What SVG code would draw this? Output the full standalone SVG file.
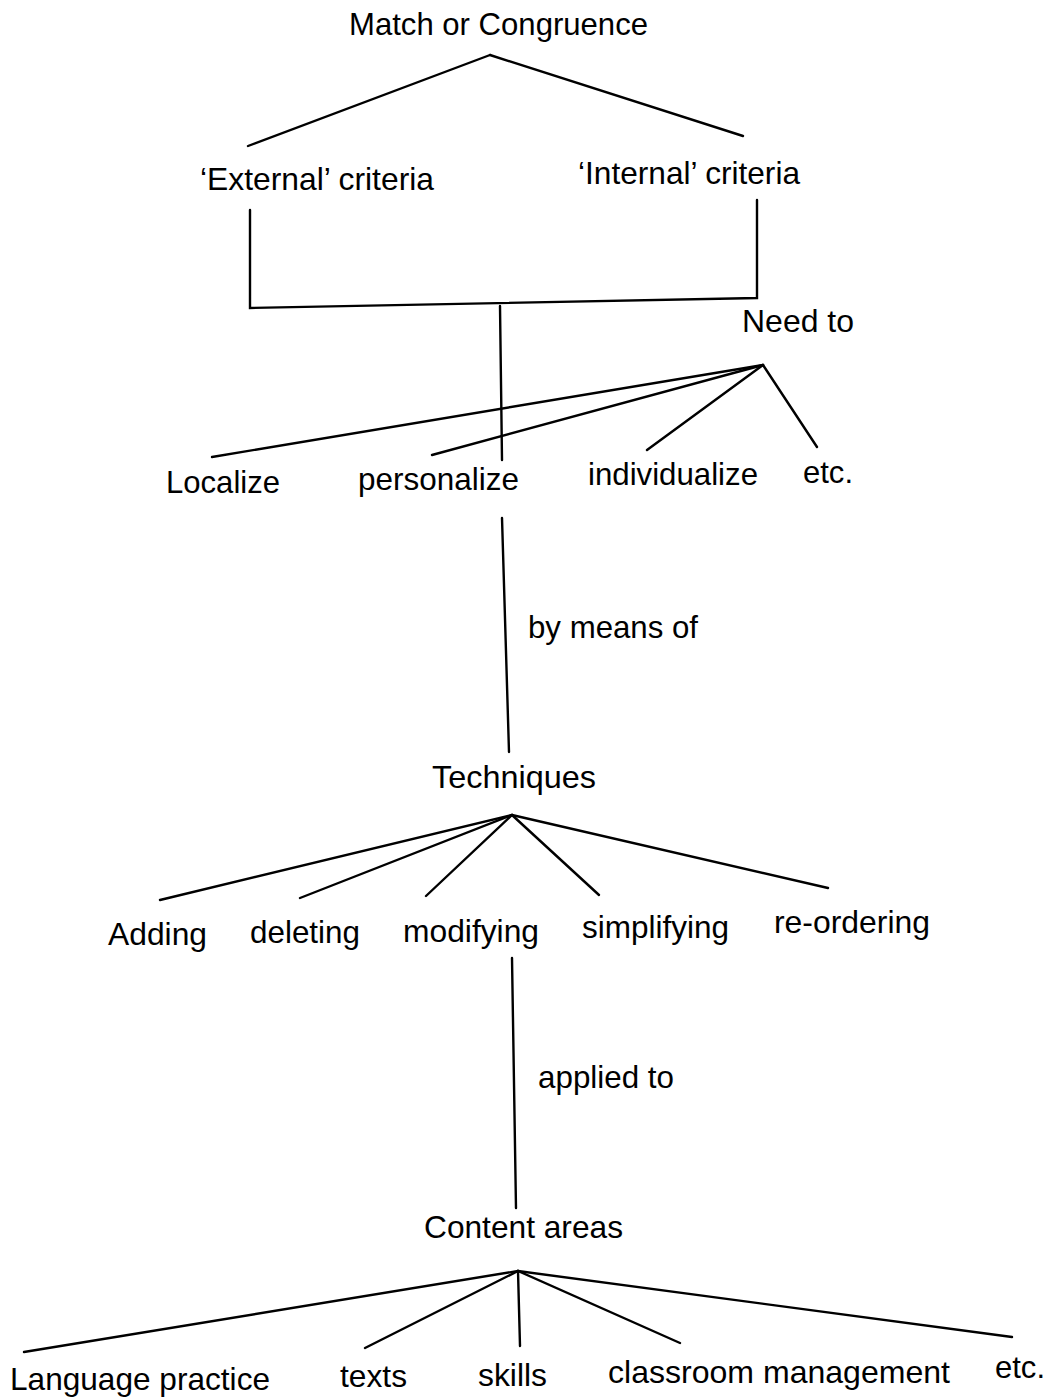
<svg xmlns="http://www.w3.org/2000/svg" width="1051" height="1397" viewBox="0 0 1051 1397">
<style>
text{font-family:"Liberation Sans",Arial,sans-serif;font-size:32px;fill:#000}
.c line,.c polyline{stroke:#000;stroke-width:2.4;fill:none;stroke-linecap:round;stroke-linejoin:miter}
</style>
<rect width="1051" height="1397" fill="#fff"/>
<g class="c" id="connectors">
<line x1="490" y1="55" x2="248" y2="146"/>
<line x1="490" y1="55" x2="743" y2="136"/>
<polyline points="250,210 250,308 757,298 757,200"/>
<line x1="500" y1="306" x2="502" y2="460"/>
<line x1="763" y1="365" x2="212" y2="457"/>
<line x1="763" y1="365" x2="432" y2="455"/>
<line x1="763" y1="365" x2="647" y2="450"/>
<line x1="763" y1="365" x2="817" y2="447"/>
<line x1="502" y1="518" x2="509" y2="752"/>
<line x1="512" y1="815" x2="160" y2="900"/>
<line x1="512" y1="815" x2="300" y2="898"/>
<line x1="512" y1="815" x2="426" y2="896"/>
<line x1="512" y1="815" x2="599" y2="895"/>
<line x1="512" y1="815" x2="828" y2="888"/>
<line x1="512" y1="958" x2="516" y2="1208"/>
<line x1="518" y1="1271" x2="24" y2="1352"/>
<line x1="518" y1="1271" x2="365" y2="1348"/>
<line x1="518" y1="1271" x2="520" y2="1346"/>
<line x1="518" y1="1271" x2="680" y2="1343"/>
<line x1="518" y1="1271" x2="1012" y2="1337"/>
</g>
<g id="match"><text x="349" y="35" textLength="299" lengthAdjust="spacingAndGlyphs">Match or Congruence</text></g>
<g id="external"><text x="200" y="190" textLength="234" lengthAdjust="spacingAndGlyphs">‘External’ criteria</text></g>
<g id="internal"><text x="578" y="184" textLength="222" lengthAdjust="spacingAndGlyphs">‘Internal’ criteria</text></g>
<g id="needto"><text x="742" y="332" textLength="112" lengthAdjust="spacingAndGlyphs">Need to</text></g>
<g id="localize"><text x="166" y="493" textLength="114" lengthAdjust="spacingAndGlyphs">Localize</text></g>
<g id="personalize"><text x="358" y="490" textLength="161" lengthAdjust="spacingAndGlyphs">personalize</text></g>
<g id="individualize"><text x="588" y="485" textLength="170" lengthAdjust="spacingAndGlyphs">individualize</text></g>
<g id="etc1"><text x="803" y="483" textLength="50" lengthAdjust="spacingAndGlyphs">etc.</text></g>
<g id="bymeans"><text x="528" y="638" textLength="170" lengthAdjust="spacingAndGlyphs">by means of</text></g>
<g id="techniques"><text x="432" y="788" textLength="164" lengthAdjust="spacingAndGlyphs">Techniques</text></g>
<g id="adding"><text x="108" y="945" textLength="99" lengthAdjust="spacingAndGlyphs">Adding</text></g>
<g id="deleting"><text x="250" y="943" textLength="110" lengthAdjust="spacingAndGlyphs">deleting</text></g>
<g id="modifying"><text x="403" y="942" textLength="136" lengthAdjust="spacingAndGlyphs">modifying</text></g>
<g id="simplifying"><text x="582" y="938" textLength="147" lengthAdjust="spacingAndGlyphs">simplifying</text></g>
<g id="reordering"><text x="774" y="933" textLength="156" lengthAdjust="spacingAndGlyphs">re-ordering</text></g>
<g id="applied"><text x="538" y="1088" textLength="136" lengthAdjust="spacingAndGlyphs">applied to</text></g>
<g id="content"><text x="424" y="1238" textLength="199" lengthAdjust="spacingAndGlyphs">Content areas</text></g>
<g id="language"><text x="10" y="1390" textLength="260" lengthAdjust="spacingAndGlyphs">Language practice</text></g>
<g id="texts"><text x="340" y="1387" textLength="67" lengthAdjust="spacingAndGlyphs">texts</text></g>
<g id="skills"><text x="478" y="1386" textLength="69" lengthAdjust="spacingAndGlyphs">skills</text></g>
<g id="classroom"><text x="608" y="1383" textLength="342" lengthAdjust="spacingAndGlyphs">classroom management</text></g>
<g id="etc2"><text x="995" y="1378" textLength="50" lengthAdjust="spacingAndGlyphs">etc.</text></g>
</svg>
